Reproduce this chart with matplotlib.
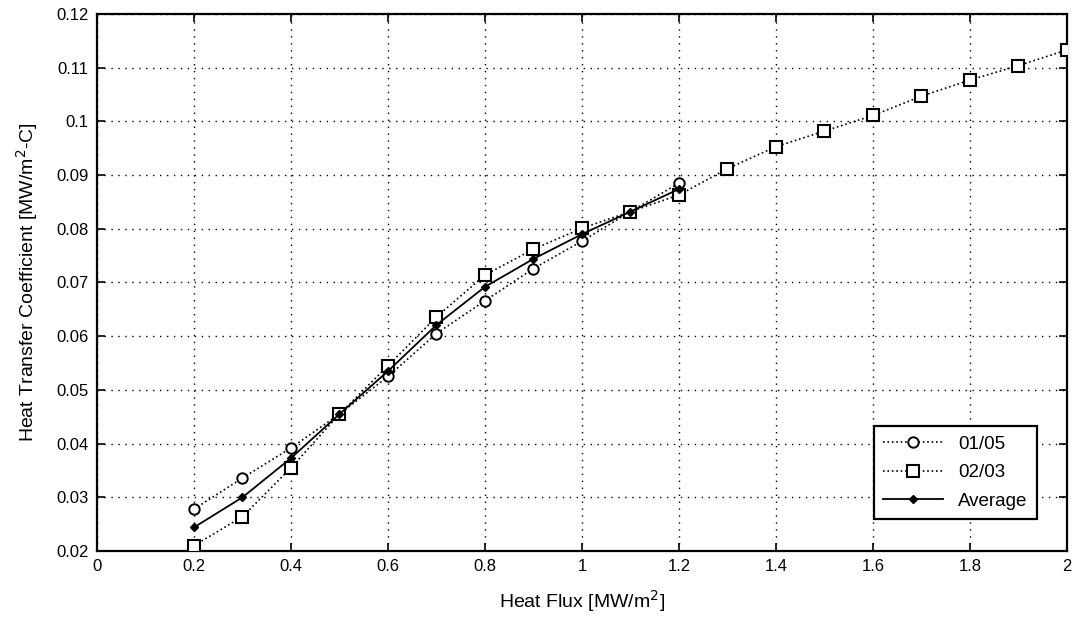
import matplotlib
matplotlib.use("Agg")
import matplotlib.pyplot as plt
from matplotlib.ticker import FixedLocator, FixedFormatter

# Data
flux_0105 = [0.2, 0.3, 0.4, 0.5, 0.6, 0.7, 0.8, 0.9, 1.0, 1.1, 1.2]
htc_0105 = [0.0278, 0.0336, 0.0392, 0.0455, 0.0525, 0.0605, 0.0666, 0.0726, 0.0777, 0.0832, 0.0885]

flux_0203 = [0.2, 0.3, 0.4, 0.5, 0.6, 0.7, 0.8, 0.9, 1.0, 1.1, 1.2, 1.3, 1.4, 1.5, 1.6, 1.7, 1.8, 1.9, 2.0]
htc_0203 = [0.0210, 0.0264, 0.0355, 0.0455, 0.0545, 0.0636, 0.0714, 0.0762, 0.0801, 0.0832, 0.0863,
            0.0912, 0.0953, 0.0982, 0.1011, 0.1047, 0.1077, 0.1104, 0.1133]

flux_avg = [0.2, 0.3, 0.4, 0.5, 0.6, 0.7, 0.8, 0.9, 1.0, 1.1, 1.2]
htc_avg = [0.0244, 0.0300, 0.0373, 0.0455, 0.0535, 0.0621, 0.0692, 0.0744, 0.0790, 0.0832, 0.0874]

x_ticks = [0, 0.2, 0.4, 0.6, 0.8, 1.0, 1.2, 1.4, 1.6, 1.8, 2.0]
x_tick_labels = ["0", "0.2", "0.4", "0.6", "0.8", "1", "1.2", "1.4", "1.6", "1.8", "2"]
y_ticks = [0.02, 0.03, 0.04, 0.05, 0.06, 0.07, 0.08, 0.09, 0.10, 0.11, 0.12]
y_tick_labels = ["0.02", "0.03", "0.04", "0.05", "0.06", "0.07", "0.08", "0.09", "0.1", "0.11", "0.12"]

plt.rcParams['font.family'] = ['Liberation Sans', 'DejaVu Sans']

fig = plt.figure(figsize=(10.73, 6.21), dpi=100)
ax = fig.add_axes([0.0904, 0.1127, 0.904, 0.8648])

ax.plot(flux_0105, htc_0105, linestyle=':', color='black', marker='o', markersize=7.5,
        markerfacecolor='white', markeredgecolor='black', markeredgewidth=1.4, linewidth=1.2,
        label='01/05', zorder=3)
ax.plot(flux_0203, htc_0203, linestyle=':', color='black', marker='s', markersize=8,
        markerfacecolor='white', markeredgecolor='black', markeredgewidth=1.5, linewidth=1.2,
        label='02/03', zorder=3)
ax.plot(flux_avg, htc_avg, linestyle='-', color='black', marker='D', markersize=4,
        markerfacecolor='black', linewidth=1.3, label='Average', zorder=4)

ax.set_xlim(0, 2)
ax.set_ylim(0.02, 0.12)
ax.xaxis.set_major_locator(FixedLocator(x_ticks))
ax.xaxis.set_major_formatter(FixedFormatter(x_tick_labels))
ax.yaxis.set_major_locator(FixedLocator(y_ticks))
ax.yaxis.set_major_formatter(FixedFormatter(y_tick_labels))

ax.grid(True, linestyle=(0, (1, 4)), color='black', linewidth=1.0)
ax.tick_params(direction='in', top=True, right=True, length=6, width=1.2,
               labelsize=12, pad=6)
for s in ax.spines.values():
    s.set_linewidth(1.6)

ax.set_xlabel('Heat Flux [MW/m$^2$]', fontsize=14, labelpad=10)
ax.set_ylabel('Heat Transfer Coefficient [MW/m$^2$-C]', fontsize=14, labelpad=12)

leg = ax.legend(loc='lower right', bbox_to_anchor=(0.969, 0.0596), borderaxespad=0,
                fontsize=13.5, frameon=True, fancybox=False, edgecolor='black', framealpha=1,
                handlelength=3.2, borderpad=0.5, labelspacing=0.6)
leg.get_frame().set_linewidth(1.6)

fig.savefig('out.png', dpi=100)
